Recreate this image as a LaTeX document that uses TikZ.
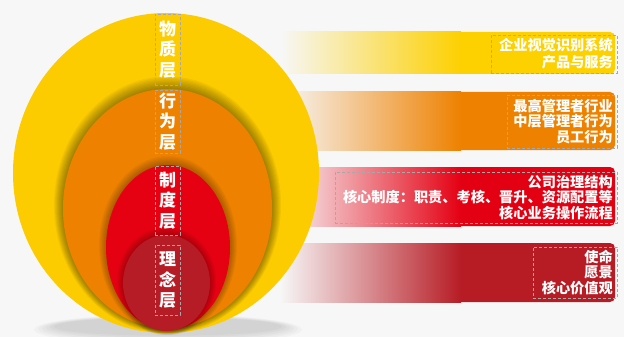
\documentclass[tikz,border=0pt]{standalone}
\usepackage{fontspec}
\newfontfamily\cjk{Noto Sans CJK SC}
\usetikzlibrary{positioning}
\definecolor{bg}{HTML}{F7F7F7}
\definecolor{cy}{HTML}{FCCB00}
\definecolor{co}{HTML}{EE8200}
\definecolor{cr}{HTML}{E50012}
\definecolor{cd}{HTML}{B51C26}
\definecolor{by}{HTML}{FDD000}
\definecolor{bo}{HTML}{EE8100}
\definecolor{br}{HTML}{E40013}
\definecolor{bd}{HTML}{B71C25}
\definecolor{dash}{HTML}{A8A8A8}
\tikzset{
  dbox/.style={draw=dash, dashed, dash pattern=on 3pt off 2pt, line width=0.7pt, inner sep=0pt},
  vtext/.style={text=white, font=\cjk\bfseries\fontsize{17}{20.5}\selectfont, align=center, inner sep=0pt},
  rtext/.style={text=white, font=\cjk\bfseries\fontsize{14.2}{15.5}\selectfont, align=right, inner sep=0pt, anchor=east},
}
\begin{document}
\begin{tikzpicture}[x=1pt,y=-1pt]
\useasboundingbox (0,0) rectangle (624,337);
\fill[bg] (0,0) rectangle (624,337);
% bars
\foreach \col/\ya/\yb in {by/32/74, bo/92/150, br/167/226, bd/243/302}{
  \fill[\col, rounded corners=5pt] (440,\ya) rectangle (615,\yb);
  \shade[left color=bg, right color=\col] (280,\ya) rectangle (461,\yb);
}
% bottom shadow
\foreach \k in {1,...,6}{
  \fill[black, opacity=0.025] (168,{326+\k*0.6}) ellipse [x radius={110+\k*4}, y radius={8+\k*1.2}];
}
% circles
\fill[cy] (166,173) ellipse [x radius=153, y radius=160];
\foreach \k in {1,...,9}{
  \fill[black, opacity=0.045] (167.5,{208.5-\k*0.4}) ellipse [x radius={104.5+\k}, y radius={119.5+\k}];
}
\fill[co] (167.5,208.5) ellipse [x radius=104.5, y radius=119.5];
\foreach \k in {1,...,7}{
  \fill[black, opacity=0.04] (168,{247.5-\k*0.3}) ellipse [x radius={62+\k}, y radius={82.5+\k}];
}
\fill[cr] (168,247.5) ellipse [x radius=62, y radius=82.5];
\foreach \k in {1,...,6}{
  \fill[black, opacity=0.04] (166.5,{283-\k*0.3}) ellipse [x radius={43.5+\k}, y radius={48+\k}];
}
\fill[cd] (166.5,283) ellipse [x radius=43.5, y radius=48];
% vertical labels
\node[dbox, minimum width=25pt, minimum height=71pt] (b1) at (167.5,49.5) {};
\node[vtext] (t1) at (b1.center) {物\\质\\层};
\node[dbox, minimum width=25pt, minimum height=63pt] (b2) at (167.5,121.5) {};
\node[vtext] (t2) at (b2.center) {行\\为\\层};
\node[dbox, minimum width=25pt, minimum height=69pt] (b3) at (167.5,200.5) {};
\node[vtext] (t3) at (b3.center) {制\\度\\层};
\node[dbox, minimum width=25pt, minimum height=70pt] (b4) at (167.5,280) {};
\node[vtext] (t4) at (b4.center) {理\\念\\层};
% right boxes
\node[dbox, minimum width=126pt, minimum height=38pt] (r1) at (554,54) {};
\node[rtext, font=\cjk\bfseries\fontsize{14.2}{16.5}\selectfont] (s1) at (613,53.5) {企业视觉识别系统\\产品与服务};
\node[dbox, minimum width=110pt, minimum height=53pt] (r2) at (562,121.5) {};
\node[rtext] (s2) at (613,121.5) {最高管理者行业\\中层管理者行为\\员工行为};
\node[dbox, minimum width=282pt, minimum height=51pt] (r3) at (476,197.5) {};
\node[rtext] (s3) at (613,197.5) {公司治理结构\\核心制度：职责、考核、晋升、资源配置等\\核心业务操作流程};
\node[dbox, minimum width=84pt, minimum height=51pt] (r4) at (575,272.5) {};
\node[rtext] (s4) at (613,272.5) {使命\\愿景\\核心价值观};
\end{tikzpicture}
\end{document}
